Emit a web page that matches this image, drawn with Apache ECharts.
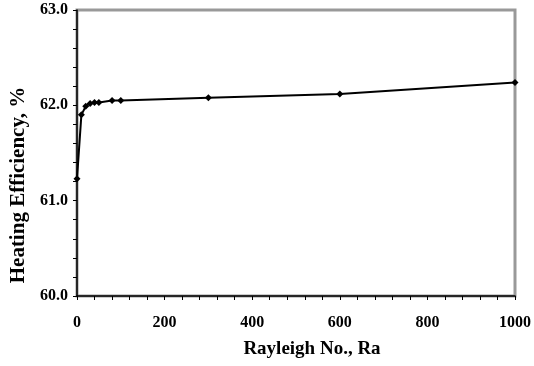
<!DOCTYPE html>
<html>
<head>
<meta charset="utf-8">
<script src="https://cdn.jsdelivr.net/npm/echarts@6/dist/echarts.min.js"></script>
<style>
  html, body { margin: 0; padding: 0; background: #fff; }
  #chart { width: 534px; height: 366px; }
</style>
</head>
<body>
<div id="chart"></div>
<script>
// Rayleigh number vs heating efficiency
var rayleigh = [0, 10, 20, 30, 40, 50, 80, 100, 300, 600, 1000];
var efficiency = [61.23, 61.9, 61.99, 62.02, 62.03, 62.03, 62.05, 62.05, 62.08, 62.12, 62.24];

var font = "Liberation Serif";

var chart = echarts.init(document.getElementById("chart"));
var option = {
  animation: false,
  grid: {
    left: 77,
    right: 17,
    top: 10,
    bottom: 70,
    show: true,
    borderColor: "#999",
    borderWidth: 3
  },
  xAxis: {
    type: "value",
    min: 0,
    max: 1000,
    interval: 200,
    name: "Rayleigh No., Ra",
    nameLocation: "middle",
    nameGap: 44,
    nameTextStyle: { fontFamily: font, fontWeight: "bold", fontSize: 19, color: "#000", padding: [0, 0, 0, 32] },
    axisLine: { show: true, lineStyle: { color: "#000", width: 1.5 } },
    axisTick: { show: true, length: 4, lineStyle: { color: "#000" } },
    minorTick: { show: true, splitNumber: 5, length: 4, lineStyle: { color: "#000" } },
    splitLine: { show: false },
    axisLabel: {
      fontFamily: font, fontWeight: "bold", fontSize: 16, color: "#000", margin: 19,
      formatter: function (v) { return String(v); }
    }
  },
  yAxis: {
    type: "value",
    min: 60,
    max: 63,
    interval: 1,
    name: "Heating Efficiency, %",
    nameLocation: "middle",
    nameGap: 39,
    nameTextStyle: { fontFamily: font, fontWeight: "bold", fontSize: 21, color: "#000", padding: [0, 64, 0, 0] },
    axisLine: { show: true, lineStyle: { color: "#000", width: 1.5 } },
    axisTick: { show: true, length: 4, lineStyle: { color: "#000" } },
    minorTick: { show: true, splitNumber: 5, length: 4, lineStyle: { color: "#000" } },
    splitLine: { show: false },
    axisLabel: {
      fontFamily: font, fontWeight: "bold", fontSize: 16, color: "#000", margin: 9,
      formatter: function (v) { return v.toFixed(1); }
    }
  },
  series: [
    {
      type: "line",
      data: rayleigh.map(function (x, i) { return [x, efficiency[i]]; }),
      symbol: "diamond",
      symbolSize: 7,
      lineStyle: { color: "#000", width: 2 },
      itemStyle: { color: "#000" }
    }
  ]
};
chart.setOption(option);
</script>
</body>
</html>
